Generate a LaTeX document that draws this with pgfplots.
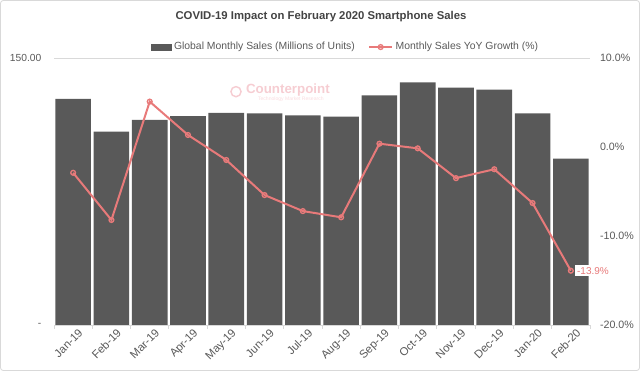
\documentclass[border=0pt]{standalone}
\usepackage{fontspec}
\setmainfont{Liberation Sans}
\usepackage{pgfplots}
\pgfplotsset{compat=1.18}
\definecolor{barC}{RGB}{89,89,89}
\definecolor{lineC}{RGB}{232,122,122}
\definecolor{txtC}{RGB}{89,89,89}
\definecolor{gridC}{RGB}{217,217,217}
\definecolor{wmC}{RGB}{246,205,210}
\pgfplotstableread{
x sales
0 127.1
1 108.6
2 115.2
3 117.4
4 119.1
5 118.9
6 117.8
7 117.0
8 129.0
9 136.3
10 133.3
11 132.2
12 118.9
13 93.4
}\salesdata
\pgfplotstableread{
x growth
0 -2.9
1 -8.2
2 5.1
3 1.35
4 -1.46
5 -5.4
6 -7.2
7 -7.9
8 0.37
9 -0.15
10 -3.5
11 -2.5
12 -6.3
13 -13.9
}\growthdata
\begin{document}
\begin{tikzpicture}
\path[use as bounding box] (0,0) rectangle (480pt,278.25pt);
\draw[gridC, rounded corners=2pt, line width=0.6pt] (0.4pt,0.4pt) rectangle (479.6pt,277.85pt);
\node[font=\bfseries\fontsize{8.5}{10}\selectfont, text=txtC!75!black] at (240.75pt,265.5pt) {COVID-19 Impact on February 2020 Smartphone Sales};
% faint watermark
\node[text=wmC, font=\bfseries\fontsize{10}{11}\selectfont, anchor=west] at (181pt,211pt) {Counterpoint};
\node[text=wmC!70, font=\fontsize{3.8}{4}\selectfont, anchor=west] at (190pt,204pt) {Technology Market Research};
\draw[wmC, line width=1.1pt] (177pt,209.5pt) circle (3.8pt);
\begin{axis}[
  at={(40.5pt,34.5pt)}, anchor=south west, scale only axis,
  width=402pt, height=200.25pt,
  xmin=-0.5, xmax=13.5, ymin=0, ymax=150,
  axis lines*=left,
  y axis line style={draw=none},
  x axis line style={gridC, line width=0.6pt},
  ytick={0,150}, yticklabels={-,150.00},
  ymajorgrids, grid style={gridC, line width=0.6pt},
  xtick={0,...,13},
  xticklabels={Jan-19,Feb-19,Mar-19,Apr-19,May-19,Jun-19,Jul-19,Aug-19,Sep-19,Oct-19,Nov-19,Dec-19,Jan-20,Feb-20},
  minor xtick={-0.5,0.5,...,13.5},
  major tick length=0pt, minor tick length=3pt, tick align=outside,
  minor x tick style={gridC, line width=0.6pt},
  x tick label style={rotate=45, anchor=north east, font=\fontsize{8.5}{10}\selectfont, text=txtC, inner sep=1pt, yshift=-3pt, xshift=2pt},
  y tick label style={font=\fontsize{7.7}{9}\selectfont, text=txtC, xshift=-6pt},
  /pgf/number format/assume math mode=true,
  clip=false,
]
\addplot[ybar, bar width=0.93, fill=barC, draw=none] table[x=x, y=sales] {\salesdata};
\end{axis}
\begin{axis}[
  at={(40.5pt,34.5pt)}, anchor=south west, scale only axis,
  width=402pt, height=200.25pt,
  xmin=-0.5, xmax=13.5, ymin=-20, ymax=10,
  axis x line=none,
  axis y line*=right,
  y axis line style={draw=none},
  ytick={-20,-10,0,10},
  yticklabel={\pgfmathprintnumber[fixed,fixed zerofill,precision=1]{\tick}\%},
  major tick length=0pt,
  y tick label style={font=\fontsize{8}{9}\selectfont, text=txtC, xshift=4pt},
  /pgf/number format/assume math mode=true,
  clip=false,
  legend columns=2,
  legend style={at={(0.545,1.041)}, anchor=center, draw=none, fill=none,
    font=\fontsize{7.8}{9}\selectfont, text=txtC,
    /tikz/every even column/.append style={column sep=8pt}},
]
\addlegendimage{legend image code/.code={\fill[barC] (0pt,-2.3pt) rectangle (14.5pt,2.3pt);}}
\addlegendentry{Global Monthly Sales (Millions of Units)}
\addplot[lineC, line width=1.5pt, mark=o, mark size=1.8pt,
  mark options={fill=white, draw=lineC, line width=1pt}] table[x=x, y=growth] {\growthdata};
\addlegendentry{Monthly Sales YoY Growth (\%)}
\addplot[draw=none, nodes near coords, point meta=explicit symbolic,
  nodes near coords style={anchor=west, fill=white, text=lineC, inner sep=1.5pt, xshift=3pt, font=\fontsize{7.5}{9}\selectfont}]
  coordinates {(13,-13.9) [-13.9\%]};
\end{axis}
\end{tikzpicture}
\end{document}
